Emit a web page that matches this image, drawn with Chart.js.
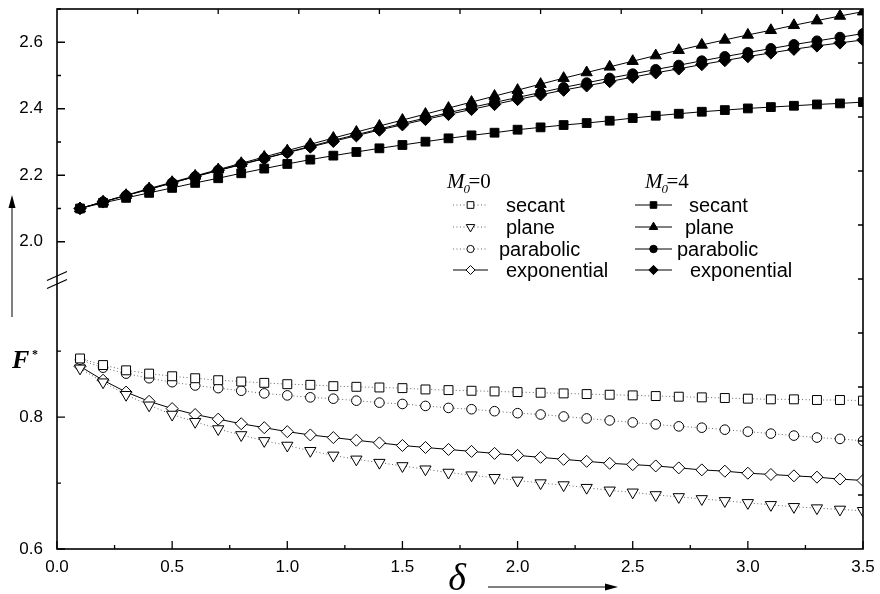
<!DOCTYPE html>
<html>
<head>
<meta charset="utf-8">
<script src="https://cdn.jsdelivr.net/npm/chart.js@4.4.1/dist/chart.umd.min.js"></script>
<style>
  html, body { margin: 0; padding: 0; background: #fff; }
</style>
</head>
<body>
<canvas id="grafico" width="880" height="594"></canvas>
<script>
// delta values
const xs = [0.1, 0.2, 0.3, 0.4, 0.5, 0.6, 0.7, 0.8, 0.9, 1.0,
            1.1, 1.2, 1.3, 1.4, 1.5, 1.6, 1.7, 1.8, 1.9, 2.0,
            2.1, 2.2, 2.3, 2.4, 2.5, 2.6, 2.7, 2.8, 2.9, 3.0,
            3.1, 3.2, 3.3, 3.4, 3.5];

// M0 = 0 (lower part of the broken axis)
const secantM0 = [0.889, 0.879, 0.871, 0.866, 0.862, 0.859, 0.856, 0.854, 0.852, 0.850,
                  0.849, 0.847, 0.846, 0.845, 0.844, 0.842, 0.841, 0.840, 0.839, 0.838,
                  0.837, 0.836, 0.835, 0.834, 0.833, 0.832, 0.831, 0.830, 0.829, 0.828,
                  0.827, 0.827, 0.826, 0.826, 0.825];
const planeM0 = [0.874, 0.853, 0.834, 0.818, 0.804, 0.793, 0.782, 0.773, 0.764, 0.757,
                 0.749, 0.742, 0.736, 0.731, 0.726, 0.721, 0.716, 0.712, 0.708, 0.704,
                 0.700, 0.697, 0.693, 0.689, 0.686, 0.682, 0.679, 0.676, 0.673, 0.670,
                 0.667, 0.664, 0.662, 0.660, 0.658];
const parabolicM0 = [0.887, 0.875, 0.866, 0.859, 0.853, 0.848, 0.844, 0.840, 0.836, 0.833,
                     0.830, 0.828, 0.825, 0.822, 0.820, 0.817, 0.814, 0.812, 0.809, 0.806,
                     0.804, 0.801, 0.798, 0.795, 0.792, 0.789, 0.786, 0.784, 0.781, 0.778,
                     0.775, 0.772, 0.769, 0.767, 0.764];
const exponentialM0 = [0.877, 0.856, 0.838, 0.824, 0.813, 0.804, 0.797, 0.790, 0.784, 0.778,
                       0.773, 0.769, 0.765, 0.761, 0.757, 0.754, 0.751, 0.748, 0.745, 0.742,
                       0.739, 0.736, 0.733, 0.730, 0.728, 0.726, 0.723, 0.720, 0.718, 0.715,
                       0.713, 0.711, 0.709, 0.706, 0.704];

// M0 = 4 (upper part)
const secantM4 = [2.100, 2.117, 2.132, 2.147, 2.162, 2.177, 2.191, 2.206, 2.220, 2.234,
                  2.247, 2.259, 2.270, 2.281, 2.291, 2.301, 2.311, 2.320, 2.328, 2.337,
                  2.344, 2.351, 2.357, 2.364, 2.372, 2.379, 2.385, 2.391, 2.396, 2.401,
                  2.405, 2.409, 2.413, 2.416, 2.420];
const planeM4 = [2.100, 2.120, 2.140, 2.160, 2.179, 2.198, 2.217, 2.236, 2.255, 2.274,
                 2.293, 2.312, 2.330, 2.348, 2.366, 2.384, 2.402, 2.420, 2.438, 2.456,
                 2.474, 2.492, 2.509, 2.526, 2.543, 2.560, 2.576, 2.592, 2.607, 2.622,
                 2.636, 2.651, 2.665, 2.679, 2.692];
const parabolicM4 = [2.100, 2.120, 2.139, 2.158, 2.177, 2.196, 2.215, 2.233, 2.251, 2.269,
                     2.287, 2.305, 2.322, 2.339, 2.356, 2.372, 2.388, 2.404, 2.419, 2.434,
                     2.449, 2.464, 2.478, 2.492, 2.505, 2.518, 2.531, 2.544, 2.557, 2.569,
                     2.581, 2.593, 2.604, 2.615, 2.626];
const exponentialM4 = [2.100, 2.120, 2.139, 2.158, 2.177, 2.196, 2.214, 2.232, 2.250, 2.268,
                       2.285, 2.302, 2.319, 2.336, 2.352, 2.368, 2.383, 2.398, 2.413, 2.428,
                       2.442, 2.456, 2.469, 2.482, 2.495, 2.508, 2.520, 2.533, 2.545, 2.557,
                       2.568, 2.579, 2.589, 2.598, 2.607];

const nombres = ['secant', 'plane', 'parabolic', 'exponential'];

const fuenteSans = '"Liberation Sans", Arial, sans-serif';
const fuenteSerif = '"Liberation Serif", "Times New Roman", serif';

function puntos(ys) {
  return xs.map((x, i) => ({ x: x, y: ys[i] }));
}

const punteado = [1, 2.5];

// estilo base de cada serie
function serie(label, ys, eje, estilo, relleno, linea) {
  return {
    label: label,
    data: puntos(ys),
    yAxisID: eje,
    borderColor: linea === 'dot' ? '#666' : '#000',
    borderDash: linea === 'dot' ? punteado : [],
    borderWidth: 1,
    pointStyle: estilo.style,
    pointRadius: estilo.r,
    pointRotation: estilo.rot || 0,
    pointBackgroundColor: relleno,
    pointBorderColor: '#000',
    pointBorderWidth: 1,
    tension: 0,
    clip: 0
  };
}

const marcas = [
  { style: 'rect', r: 6.3 },
  { style: 'triangle', r: 6.5, rot: 180 },
  { style: 'circle', r: 4.8 },
  { style: 'rectRot', r: 6 }
];
const marcasLlenas = [
  { style: 'rect', r: 6.2 },
  { style: 'triangle', r: 6.5 },
  { style: 'circle', r: 5 },
  { style: 'rectRot', r: 6.2 }
];

const datasets = [
  serie(nombres[0], secantM0, 'y', marcas[0], '#fff', 'dot'),
  serie(nombres[1], planeM0, 'y', marcas[1], '#fff', 'dot'),
  serie(nombres[2], parabolicM0, 'y', marcas[2], '#fff', 'dot'),
  serie(nombres[3], exponentialM0, 'y', marcas[3], '#fff', 'solid'),
  serie(nombres[0], secantM4, 'yTop', marcasLlenas[0], '#000', 'solid'),
  serie(nombres[1], planeM4, 'yTop', marcasLlenas[1], '#000', 'solid'),
  serie(nombres[2], parabolicM4, 'yTop', marcasLlenas[2], '#000', 'solid'),
  serie(nombres[3], exponentialM4, 'yTop', marcasLlenas[3], '#000', 'solid')
];

function multiplo(v, paso) {
  return Math.abs(v / paso - Math.round(v / paso)) < 1e-6;
}

function flecha(ctx, x1, y1, x2, y2) {
  const ang = Math.atan2(y2 - y1, x2 - x1);
  ctx.beginPath();
  ctx.moveTo(x1, y1);
  ctx.lineTo(x2 - Math.cos(ang) * 10, y2 - Math.sin(ang) * 10);
  ctx.stroke();
  ctx.beginPath();
  ctx.moveTo(x2, y2);
  ctx.lineTo(x2 - Math.cos(ang) * 13 - Math.sin(ang) * 3.5, y2 - Math.sin(ang) * 13 + Math.cos(ang) * 3.5);
  ctx.lineTo(x2 - Math.cos(ang) * 13 + Math.sin(ang) * 3.5, y2 - Math.sin(ang) * 13 - Math.cos(ang) * 3.5);
  ctx.closePath();
  ctx.fill();
}

// marco, ticks hacia adentro, corte del eje, titulos y leyenda
const decoracion = {
  id: 'decoracion',
  afterDraw(chart) {
    const ctx = chart.ctx;
    const a = chart.chartArea;
    const sx = chart.scales.x;
    const yl = chart.scales.y;
    const yu = chart.scales.yTop;
    ctx.save();
    ctx.strokeStyle = '#000';
    ctx.fillStyle = '#000';
    ctx.lineWidth = 1.6;
    ctx.strokeRect(a.left, a.top, a.right - a.left, a.bottom - a.top);

    ctx.lineWidth = 1.3;
    ctx.beginPath();
    sx.ticks.forEach(t => {
      const px = sx.getPixelForValue(t.value);
      const len = t.label ? 8 : 4;
      ctx.moveTo(px, a.bottom);
      ctx.lineTo(px, a.bottom - len);
    });
    [yl, yu].forEach(s => {
      s.ticks.forEach(t => {
        if (!multiplo(t.value, 0.1)) return;
        if (s === yl && t.value > 0.95) return;
        if (s === yu && t.value < 1.95) return;
        const py = s.getPixelForValue(t.value);
        const len = t.label ? 8 : 4;
        ctx.moveTo(a.left, py);
        ctx.lineTo(a.left + len, py);
      });
    });
    // ticks del eje superior y derecho (10 divisiones)
    for (let i = 1; i < 10; i++) {
      const px = a.left + (a.right - a.left) * i / 10;
      ctx.moveTo(px, a.top);
      ctx.lineTo(px, a.top + 5);
      const py = a.top + (a.bottom - a.top) * i / 10;
      ctx.moveTo(a.right, py);
      ctx.lineTo(a.right - 5, py);
    }
    ctx.stroke();

    // marcas del corte
    const yb = yu.bottom;
    ctx.lineWidth = 1.2;
    ctx.beginPath();
    [-4, 4].forEach(d => {
      ctx.moveTo(a.left - 10, yb + d + 4.5);
      ctx.lineTo(a.left + 10, yb + d - 4.5);
    });
    ctx.stroke();

    // titulo eje y
    ctx.lineWidth = 1;
    flecha(ctx, 12, 317, 12, 195);
    ctx.textBaseline = 'alphabetic';
    ctx.textAlign = 'left';
    ctx.font = 'italic bold 26px ' + fuenteSerif;
    ctx.fillText('F', 12, 368);
    ctx.font = 'bold 12px ' + fuenteSerif;
    ctx.fillText('*', 32, 358);

    // titulo eje x
    ctx.font = 'italic 38px ' + fuenteSerif;
    ctx.textAlign = 'center';
    ctx.fillText('δ', 457, 590);
    flecha(ctx, 488, 587, 618, 587);

    // leyenda
    const filas = [205, 227, 249, 270];
    const columnas = [
      { x1: 453, x2: 488, hx: 447, titulo: '0', textos: [506, 506, 499, 506] },
      { x1: 635, x2: 672, hx: 645, titulo: '4', textos: [689, 685, 677, 690] }
    ];
    columnas.forEach((col, c) => {
      ctx.textAlign = 'left';
      ctx.textBaseline = 'alphabetic';
      ctx.font = 'italic 21px ' + fuenteSerif;
      ctx.fillText('M', col.hx, 188);
      const wM = ctx.measureText('M').width;
      ctx.font = 'italic 13px ' + fuenteSerif;
      ctx.fillText('0', col.hx + wM - 1, 193);
      ctx.font = '21px ' + fuenteSerif;
      ctx.fillText('=' + col.titulo, col.hx + wM + 4, 188);

      for (let i = 0; i < 4; i++) {
        const ds = chart.data.datasets[c * 4 + i];
        const y = filas[i];
        ctx.save();
        ctx.strokeStyle = ds.borderColor;
        ctx.setLineDash(ds.borderDash);
        ctx.lineWidth = 1;
        ctx.beginPath();
        ctx.moveTo(col.x1, y);
        ctx.lineTo(col.x2, y);
        ctx.stroke();
        ctx.restore();
        ctx.save();
        ctx.fillStyle = ds.pointBackgroundColor;
        ctx.strokeStyle = '#000';
        ctx.lineWidth = 1;
        Chart.helpers.drawPoint(ctx, {
          pointStyle: ds.pointStyle,
          radius: ds.pointRadius * 0.75,
          rotation: ds.pointRotation,
          borderWidth: 1
        }, (col.x1 + col.x2) / 2, y);
        ctx.restore();
        ctx.fillStyle = '#000';
        ctx.font = '20px ' + fuenteSans;
        ctx.textBaseline = 'middle';
        ctx.fillText(ds.label, col.textos[i], y + 1);
      }
    });
    ctx.restore();
  }
};

const ejeY = (min, max, peso, mostrar) => ({
  type: 'linear',
  position: 'left',
  stack: 'fuerza',
  stackWeight: peso,
  min: min,
  max: max,
  grid: { display: false, drawTicks: false },
  border: { display: false },
  ticks: {
    stepSize: 0.1,
    autoSkip: false,
    includeBounds: false,
    padding: 14,
    color: '#000',
    font: { family: fuenteSans, size: 17 },
    callback: v => (multiplo(v, 0.2) && mostrar(v)) ? v.toFixed(1) : ''
  },
  afterFit: s => { s.width = 57; s.paddingTop = 0; s.paddingBottom = 0; }
});

const ctx = document.getElementById('grafico').getContext('2d');

new Chart(ctx, {
  type: 'line',
  data: { datasets: datasets },
  options: {
    responsive: false,
    animation: false,
    layout: { padding: { top: 9, right: 17, bottom: 0, left: 0 } },
    plugins: {
      legend: { display: false },
      tooltip: { enabled: false }
    },
    scales: {
      x: {
        type: 'linear',
        min: 0,
        max: 3.5,
        grid: { display: false, drawTicks: false },
        border: { display: false },
        ticks: {
          stepSize: 0.25,
          autoSkip: false,
          maxRotation: 0,
          padding: 8,
          color: '#000',
          font: { family: fuenteSans, size: 17 },
          callback: v => multiplo(v, 0.5) ? v.toFixed(1) : ''
        },
        afterFit: s => { s.height = 45; s.paddingLeft = 0; s.paddingRight = 0; }
      },
      y: ejeY(0.6, 1.008, 269, v => v < 0.95),
      yTop: ejeY(1.885, 2.7, 271, v => v > 1.95)
    }
  },
  plugins: [decoracion]
});
</script>
</body>
</html>
